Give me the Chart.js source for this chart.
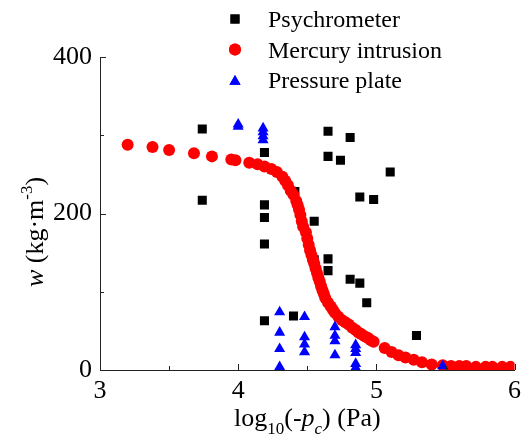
<!DOCTYPE html>
<html lang="en">
<head>
    <meta charset="UTF-8">
    <title>Water content vs capillary pressure</title>
    <script src="https://cdn.jsdelivr.net/npm/chart.js"></script>
    <style>
        body { margin: 0; background: #fff; }
        #wrap { width: 521px; height: 439px; position: relative; }
    </style>
</head>
<body>
    <div id="wrap"><canvas id="myChart"></canvas></div>
    <script>
        // log10(-pc) and w for each measuring method
        const psychX = [3.74, 3.74, 4.19, 4.19, 4.19, 4.19, 4.19, 4.40, 4.41, 4.55, 4.55, 4.65,
                        4.65, 4.65, 4.65, 4.74, 4.81, 4.81, 4.88, 4.88, 4.98, 4.93, 5.10, 5.29];
        const psychW = [308, 217, 278, 211, 195, 161, 63, 69, 228, 190, 141, 305,
                        273, 142, 127, 268, 297, 116, 221, 111, 218, 86, 253, 44];

        const mercuryX = [3.20, 3.38, 3.50, 3.68, 3.81, 3.95, 3.98, 4.08, 4.14, 4.19, 4.24, 4.28,
                          4.32, 4.34, 4.36, 4.38, 4.40, 4.42, 4.43, 4.44, 4.45, 4.46, 4.47, 4.49,
                          4.50, 4.51, 4.52, 4.53, 4.54, 4.55, 4.56, 4.57, 4.58, 4.59, 4.60, 4.61,
                          4.62, 4.63, 4.65, 4.67, 4.685, 4.70, 4.725, 4.75, 4.775, 4.80, 4.825, 4.85,
                          4.87, 4.89, 4.915, 4.94, 4.96, 4.98, 5.06, 5.11, 5.16, 5.21, 5.27, 5.33,
                          5.40, 5.48, 5.54, 5.60, 5.65, 5.72, 5.79, 5.84, 5.91, 5.97];
        const mercuryW = [288, 285, 281, 277, 273, 269, 268, 265, 263, 260, 257, 253,
                          247, 242, 236, 229, 224, 216, 211, 205, 198, 190, 183, 176,
                          168, 160, 153, 147, 141, 136, 130, 124, 118, 113, 107, 102,
                          97, 92, 86, 81, 77, 73, 68, 64, 61, 58, 54, 51,
                          48, 46, 43, 41, 38, 36, 28, 23, 19, 16, 13, 10,
                          7, 6, 5, 5, 5, 4, 4, 4, 4, 4];

        const plateX = [4.00, 4.00, 4.18, 4.18, 4.18, 4.18, 4.30, 4.30, 4.30, 4.30, 4.48, 4.48,
                        4.48, 4.48, 4.70, 4.70, 4.70, 4.70, 4.85, 4.85, 4.85, 4.85, 4.85, 5.48];
        const plateW = [314, 311, 309, 304, 299, 294, 74, 48, 27, 4, 68, 42,
                        33, 23, 55, 44, 37, 19, 32, 27, 22, 8, 3, 5];

        const xTicks = [3, 4, 5, 6];
        const xMinor = [3.5, 4.5, 5.5];
        const yTicks = [0, 200, 400];
        const yMinor = [100, 300];

        const legendNames = ['Psychrometer', 'Mercury intrusion', 'Pressure plate'];
        const colors = ['#000000', '#ff0000', '#0000ff'];
        const styles = ['rect', 'circle', 'triangle'];
        const radii = [6.4, 6, 6.4];

        const serif = '"Liberation Serif", "Times New Roman", serif';

        function toPoints(xs, ys) {
            return xs.map((x, i) => ({ x: x, y: ys[i] }));
        }

        // inward tick marks, legend and the two axis titles
        const decor = {
            id: 'decor',
            afterDraw(chart) {
                const ctx = chart.ctx;
                const area = chart.chartArea;
                const xs = chart.scales.x;
                const ys = chart.scales.y;
                ctx.save();
                ctx.strokeStyle = '#222';
                ctx.lineWidth = 1;
                ctx.beginPath();
                xTicks.forEach(v => {
                    const p = Math.round(xs.getPixelForValue(v)) + 0.5;
                    ctx.moveTo(p, area.bottom); ctx.lineTo(p, area.bottom - 6);
                });
                xMinor.forEach(v => {
                    const p = Math.round(xs.getPixelForValue(v)) + 0.5;
                    ctx.moveTo(p, area.bottom); ctx.lineTo(p, area.bottom - 4);
                });
                yTicks.forEach(v => {
                    const p = Math.round(ys.getPixelForValue(v)) + 0.5;
                    ctx.moveTo(area.left, p); ctx.lineTo(area.left + 6, p);
                });
                yMinor.forEach(v => {
                    const p = Math.round(ys.getPixelForValue(v)) + 0.5;
                    ctx.moveTo(area.left, p); ctx.lineTo(area.left + 4, p);
                });
                ctx.stroke();

                // legend
                ctx.textBaseline = 'alphabetic';
                ctx.textAlign = 'left';
                ctx.font = '24px ' + serif;
                legendNames.forEach((name, i) => {
                    const cy = 19 + i * 30.5;
                    ctx.fillStyle = colors[i];
                    Chart.helpers.drawPoint(ctx, {
                        pointStyle: styles[i], radius: radii[i], rotation: 0, borderWidth: 0
                    }, 235, cy + (styles[i] === 'triangle' ? 1.5 : 0));
                    ctx.fill();
                    ctx.fillStyle = '#000';
                    ctx.fillText(name, 268, cy + 8);
                });

                // x title: log10(-pc) (Pa)
                const big = '26px ' + serif;
                const small = '17px ' + serif;
                const italic = 'italic 26px ' + serif;
                const parts = [
                    [big, 'log', 0], [small, '10', 8], [big, '(-', 0],
                    [italic, 'p', 0], ['italic 17px ' + serif, 'c', 8], [big, ') (Pa)', 0]
                ];
                let total = 0;
                parts.forEach(p => { ctx.font = p[0]; total += ctx.measureText(p[1]).width; });
                let cx = (area.left + area.right) / 2 - total / 2;
                parts.forEach(p => {
                    ctx.font = p[0];
                    ctx.fillText(p[1], cx, 426 + p[2]);
                    cx += ctx.measureText(p[1]).width;
                });

                // y title: w (kg·m-3)
                const yParts = [
                    [italic, 'w', 0], [big, ' (kg\u00b7m', 0], [small, '-3', -11], [big, ')', 0]
                ];
                total = 0;
                yParts.forEach(p => { ctx.font = p[0]; total += ctx.measureText(p[1]).width; });
                ctx.translate(43, 232);
                ctx.rotate(-Math.PI / 2);
                cx = -total / 2;
                yParts.forEach(p => {
                    ctx.font = p[0];
                    ctx.fillText(p[1], cx, p[2]);
                    cx += ctx.measureText(p[1]).width;
                });
                ctx.restore();
            }
        };

        const ctx = document.getElementById('myChart').getContext('2d');
        const chart = new Chart(ctx, {
            type: 'scatter',
            data: {
                datasets: [
                    {
                        label: legendNames[0],
                        data: toPoints(psychX, psychW),
                        pointStyle: styles[0],
                        pointRadius: radii[0],
                        backgroundColor: colors[0],
                        borderWidth: 0,
                        order: 3
                    },
                    {
                        label: legendNames[1],
                        data: toPoints(mercuryX, mercuryW),
                        pointStyle: styles[1],
                        pointRadius: radii[1],
                        backgroundColor: colors[1],
                        borderWidth: 0,
                        order: 2
                    },
                    {
                        label: legendNames[2],
                        data: toPoints(plateX, plateW),
                        pointStyle: styles[2],
                        pointRadius: radii[2],
                        backgroundColor: colors[2],
                        borderWidth: 0,
                        order: 1
                    }
                ]
            },
            options: {
                responsive: true,
                maintainAspectRatio: false,
                animation: false,
                layout: { padding: { top: 57, right: 4, left: 0, bottom: 0 } },
                plugins: {
                    legend: { display: false },
                    tooltip: { enabled: false }
                },
                scales: {
                    x: {
                        type: 'linear',
                        min: 3,
                        max: 6,
                        grid: { display: false, drawTicks: false },
                        border: { display: true, color: '#222', width: 1 },
                        ticks: {
                            stepSize: 1,
                            padding: 6,
                            color: '#000',
                            font: { family: serif, size: 26 }
                        },
                        afterFit(scale) {
                            scale.height = 69;
                            scale.paddingLeft = 0;
                            scale.paddingRight = 0;
                        }
                    },
                    y: {
                        min: 0,
                        max: 400,
                        grid: { display: false, drawTicks: false },
                        border: { display: true, color: '#222', width: 1 },
                        ticks: {
                            stepSize: 200,
                            padding: 8,
                            color: '#000',
                            font: { family: serif, size: 26 }
                        },
                        afterFit(scale) {
                            scale.width = 100;
                            scale.paddingTop = 0;
                            scale.paddingBottom = 0;
                        }
                    }
                }
            },
            plugins: [decor]
        });
    </script>
</body>
</html>
